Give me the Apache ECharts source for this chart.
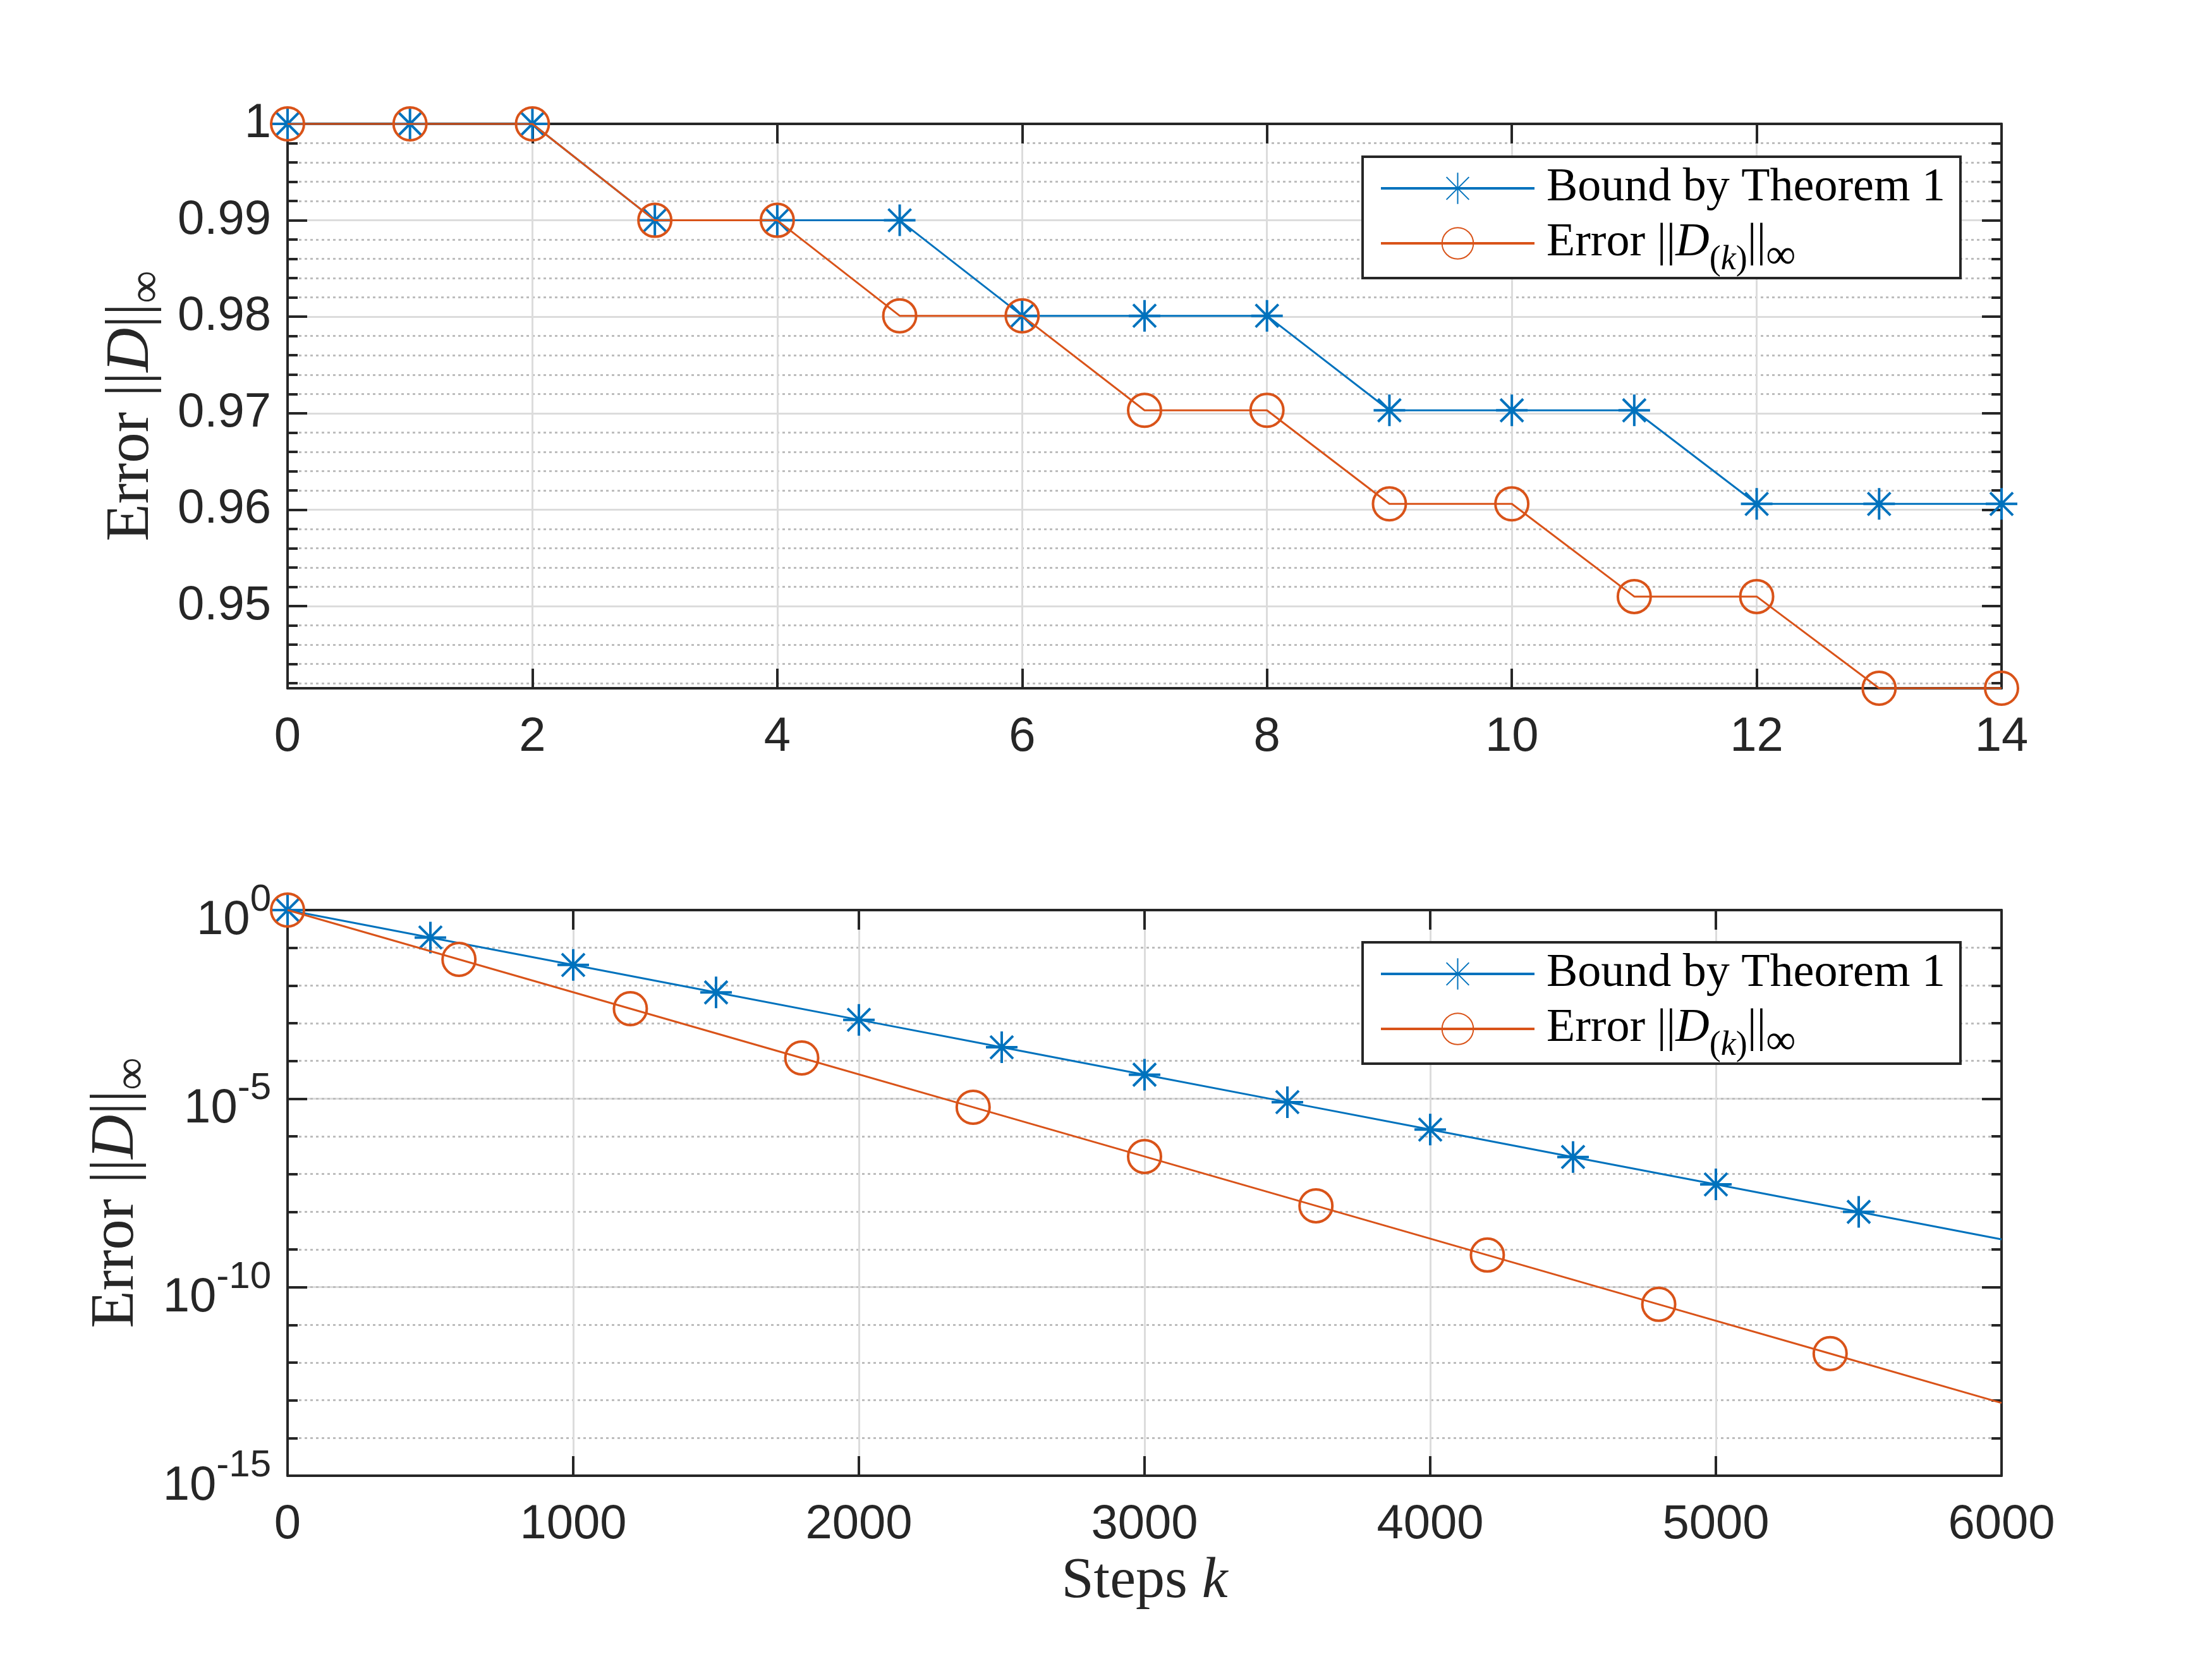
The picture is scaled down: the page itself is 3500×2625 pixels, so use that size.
<!DOCTYPE html>
<html><head><meta charset="utf-8">
<script src="https://cdn.jsdelivr.net/npm/echarts@6/dist/echarts.min.js"></script>
<style>html,body{margin:0;padding:0;background:#fff}#c{width:3500px;height:2625px}</style>
</head><body><div id="c"></div>
<script>
// ---- data ----
const stepsTop = [0,1,2,3,4,5,6,7,8,9,10,11,12,13,14];
const boundTop = [1,1,1,0.99,0.99,0.99,0.9801,0.9801,0.9801,0.970299,0.970299,0.970299,0.96059601,0.96059601,0.96059601];
const errorTop = [1,1,1,0.99,0.99,0.9801,0.9801,0.970299,0.970299,0.96059601,0.96059601,0.95099005,0.95099005,0.94148015,0.94148015];
const topYMin = 0.94148015;
const boundSteps = [0,500,1000,1500,2000,2500,3000,3500,4000,4500,5000,5500,6000];
const boundLog = [1,0.187,0.0351,6.57e-3,1.23e-3,2.30e-4,4.31e-5,8.07e-6,1.51e-6,2.83e-7,5.31e-8,9.94e-9,1.86e-9];
const errorSteps = [0,600,1200,1800,2400,3000,3600,4200,4800,5400,6000];
const errorLog = [1,0.0493,2.43e-3,1.20e-4,5.92e-6,2.92e-7,1.44e-8,7.10e-10,3.50e-11,1.73e-12,8.51e-14];
const seriesNames = ['Bound by Theorem 1', 'Error'];

// ---- style ----
const BLUE = '#0072BD', ORANGE = '#D95319', AX = '#262626';
const SERIF = "'Liberation Serif','DejaVu Serif',serif";
const SANS = "'Liberation Sans',Arial,sans-serif";
const ASTERISK = 'path://M50,0L50,100M0,50L100,50M14,14L86,86M14,86L86,14';
const G1 = {left: 455, right: 333, top: 196, height: 893};
const G2 = {left: 455, right: 333, top: 1440, height: 895};

const majorSplit = {show: true, lineStyle: {color: '#dcdcdc', width: 3}};
const minorSplit = {show: true, lineStyle: {color: '#bdbdbd', width: 3, type: [4, 5]}};
const axLine = {show: true, onZero: false, lineStyle: {color: AX, width: 4}};
const majTick = {show: true, inside: true, length: 31, lineStyle: {color: AX, width: 4}};
const minTick = {show: true, inside: true, length: 16, splitNumber: 5, lineStyle: {color: AX, width: 4}};
const tickLabel = {fontFamily: SANS, fontSize: 76, color: AX};

function yName(){
  return {
    name: '{t|Error ||}{i|D}{t|||}{s|∞}',
    nameLocation: 'middle',
    nameTextStyle: {
      color: AX,
      rich: {
        t: {fontFamily: SERIF, fontSize: 97, lineHeight: 97, color: AX},
        i: {fontFamily: SERIF, fontStyle: 'italic', fontSize: 97, lineHeight: 97, color: AX},
        s: {fontFamily: SERIF, fontSize: 72, height: 45, lineHeight: 45, verticalAlign: 'bottom', color: AX}
      }
    }
  };
}

const logRich = {
  b: {fontFamily: SANS, fontSize: 76, lineHeight: 76, color: AX},
  s: {fontFamily: SANS, fontSize: 60, height: 11, lineHeight: 11, verticalAlign: 'top', color: AX}
};

function legendFor(top){
  return {
    orient: 'vertical', left: 2156, top: top,
    itemWidth: 243, itemHeight: 62, itemGap: 13,
    padding: [13, 24, 0, 27],
    borderColor: AX, borderWidth: 4, backgroundColor: '#fff',
    lineStyle: {width: 4},
    data: seriesNames,
    selectedMode: false,
    formatter: function(n){
      if (n === 'Error') return '{g| }{t|Error ||}{i|D}{s|(}{si|k}{s|)}{t|||}{s2|∞}';
      return '{g| }{t|' + n + '}';
    },
    textStyle: {
      color: '#000',
      rich: {
        g: {width: 14, fontSize: 20, lineHeight: 62},
        t: {fontFamily: SERIF, fontSize: 74, lineHeight: 62, color: '#000'},
        i: {fontFamily: SERIF, fontStyle: 'italic', fontSize: 74, lineHeight: 62, color: '#000'},
        s: {fontFamily: SERIF, fontSize: 54, height: 8, lineHeight: 8, verticalAlign: 'bottom', color: '#000'},
        si: {fontFamily: SERIF, fontStyle: 'italic', fontSize: 54, height: 8, lineHeight: 8, verticalAlign: 'bottom', color: '#000'},
        s2: {fontFamily: SERIF, fontSize: 66, height: 18, lineHeight: 18, verticalAlign: 'bottom', color: '#000'}
      }
    }
  };
}

const chart = echarts.init(document.getElementById('c'), null, {renderer: 'canvas'});

const lastNone = (xs, ys) => xs.map((x, i) => i === xs.length - 1 ? {value: [x, ys[i]], symbol: 'none'} : [x, ys[i]]);

const boundStyle = {
  type: 'line', symbol: ASTERISK, symbolSize: 50, symbolKeepAspect: true,
  lineStyle: {color: BLUE, width: 3},
  itemStyle: {color: 'rgba(0,0,0,0)', borderColor: BLUE, borderWidth: 4},
  emphasis: {disabled: true}, z: 3
};
const errStyle = {
  type: 'line', symbol: 'circle', symbolSize: 52,
  lineStyle: {color: ORANGE, width: 3},
  itemStyle: {color: 'rgba(0,0,0,0)', borderColor: ORANGE, borderWidth: 4},
  emphasis: {disabled: true}, z: 4
};
const plainNum = v => String(v);

const option = {
  animation: false,
  backgroundColor: '#fff',
  grid: [G1, G2],
  legend: [legendFor(248), legendFor(1491)],
  xAxis: [
    {gridIndex: 0, type: 'value', min: 0, max: 14, interval: 2, position: 'bottom',
     axisLine: axLine, axisTick: majTick, axisLabel: Object.assign({margin: 40, formatter: plainNum}, tickLabel),
     splitLine: majorSplit},
    {gridIndex: 0, type: 'value', min: 0, max: 14, interval: 2, position: 'top',
     axisLine: axLine, axisTick: majTick, axisLabel: {show: false}, splitLine: {show: false}},
    {gridIndex: 1, type: 'value', min: 0, max: 6000, interval: 1000, position: 'bottom',
     axisLine: axLine, axisTick: majTick, axisLabel: Object.assign({margin: 40, formatter: plainNum}, tickLabel),
     splitLine: majorSplit,
     name: '{a|Steps }{i|k}', nameLocation: 'middle', nameGap: 122,
     nameTextStyle: {rich: {
       a: {fontFamily: SERIF, fontSize: 92, color: AX},
       i: {fontFamily: SERIF, fontStyle: 'italic', fontSize: 92, color: AX}}}},
    {gridIndex: 1, type: 'value', min: 0, max: 6000, interval: 1000, position: 'top',
     axisLine: axLine, axisTick: majTick, axisLabel: {show: false}, splitLine: {show: false}}
  ],
  yAxis: [
    Object.assign({gridIndex: 0, type: 'value', min: topYMin, max: 1, position: 'left',
     axisLine: axLine, axisTick: majTick, minorTick: minTick,
     axisLabel: Object.assign({margin: 26, showMinLabel: false}, tickLabel),
     splitLine: majorSplit, minorSplitLine: minorSplit, nameGap: 190}, yName()),
    {gridIndex: 0, type: 'value', min: topYMin, max: 1, position: 'right',
     axisLine: axLine, axisTick: majTick, minorTick: minTick,
     axisLabel: {show: false}, splitLine: {show: false}},
    // bottom plot: major ticks every 5 decades
    Object.assign({gridIndex: 1, type: 'log', logBase: 10, min: 1e-15, max: 1, interval: 5, position: 'left',
     axisLine: axLine, axisTick: majTick,
     axisLabel: {margin: 26, padding: [34, 0, 0, 0],
       formatter: v => '{b|10}{s|' + Math.round(Math.log10(v)) + '}', rich: logRich},
     splitLine: majorSplit, nameGap: 218}, yName()),
    // bottom plot: every decade (dotted)
    {gridIndex: 1, type: 'log', logBase: 10, min: 1e-15, max: 1, interval: 1, position: 'left',
     axisLine: {show: false, onZero: false}, axisTick: {show: true, inside: true, length: 16, lineStyle: {color: AX, width: 4}},
     axisLabel: {show: false}, splitLine: minorSplit},
    {gridIndex: 1, type: 'log', logBase: 10, min: 1e-15, max: 1, interval: 5, position: 'right',
     axisLine: axLine, axisTick: majTick, axisLabel: {show: false}, splitLine: {show: false}},
    {gridIndex: 1, type: 'log', logBase: 10, min: 1e-15, max: 1, interval: 1, position: 'right',
     axisLine: {show: false, onZero: false}, axisTick: {show: true, inside: true, length: 16, lineStyle: {color: AX, width: 4}},
     axisLabel: {show: false}, splitLine: {show: false}}
  ],
  series: [
    Object.assign({name: seriesNames[0], xAxisIndex: 0, yAxisIndex: 0,
      data: stepsTop.map((x, i) => [x, boundTop[i]])}, boundStyle),
    Object.assign({name: seriesNames[1], xAxisIndex: 0, yAxisIndex: 0,
      data: stepsTop.map((x, i) => [x, errorTop[i]])}, errStyle),
    Object.assign({name: seriesNames[0], xAxisIndex: 2, yAxisIndex: 2,
      data: lastNone(boundSteps, boundLog)}, boundStyle),
    Object.assign({name: seriesNames[1], xAxisIndex: 2, yAxisIndex: 2,
      data: lastNone(errorSteps, errorLog)}, errStyle)
  ]
};
chart.setOption(option);
</script></body></html>
